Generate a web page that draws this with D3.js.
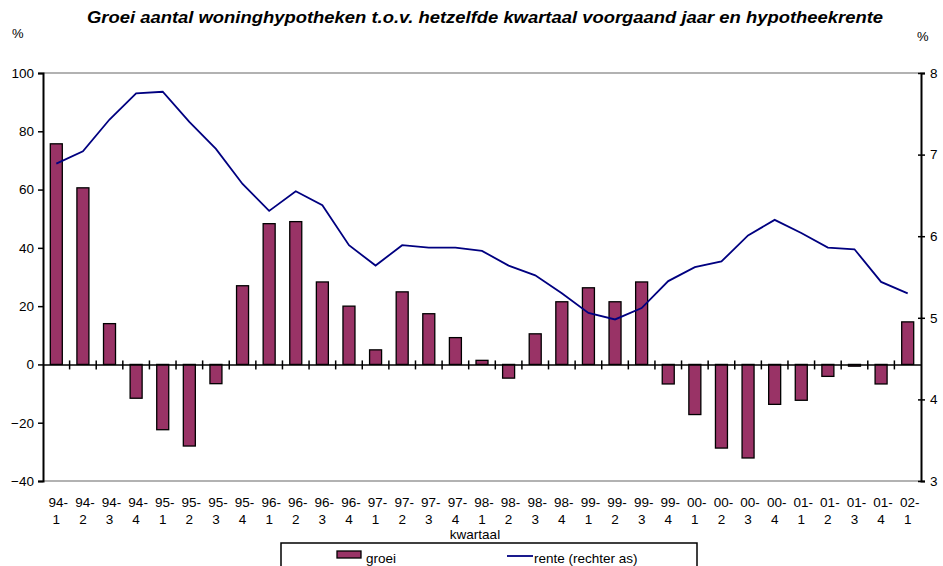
<!DOCTYPE html>
<html>
<head>
<meta charset="utf-8">
<script src="https://cdn.jsdelivr.net/npm/d3@7"></script>
<style>
  body { margin: 0; background: #fff; }
  svg text { font-family: "Liberation Sans", Arial, sans-serif; fill: #000; }
</style>
</head>
<body>
<div id="chart"></div>
<script>
// quarters, growth of mortgages (%) and mortgage rate (%, right axis)
var quarters = ['94-1','94-2','94-3','94-4','95-1','95-2','95-3','95-4',
  '96-1','96-2','96-3','96-4','97-1','97-2','97-3','97-4',
  '98-1','98-2','98-3','98-4','99-1','99-2','99-3','99-4',
  '00-1','00-2','00-3','00-4','01-1','01-2','01-3','01-4','02-1'];
var groei = [75.7, 60.6, 14.0, -11.6, -22.4, -28.0, -6.6, 27.0,
  48.3, 49.0, 28.3, 20.0, 5.0, 24.9, 17.4, 9.2,
  1.4, -4.7, 10.5, 21.5, 26.3, 21.5, 28.3, -6.7,
  -17.2, -28.7, -32.1, -13.7, -12.3, -4.1, -0.6, -6.7, 14.6];
var rente = [6.89, 7.04, 7.43, 7.75, 7.77, 7.40, 7.07, 6.64,
  6.31, 6.55, 6.38, 5.89, 5.64, 5.89, 5.86, 5.86,
  5.82, 5.64, 5.52, 5.30, 5.06, 4.98, 5.12, 5.45,
  5.62, 5.69, 6.01, 6.20, 6.04, 5.86, 5.84, 5.44, 5.30];
var leftTicks = [-40, -20, 0, 20, 40, 60, 80, 100];
var rightTicks = [3, 4, 5, 6, 7, 8];

var W = 943, H = 566;
var X0 = 43, X1 = 921, Y0 = 73, Y1 = 481;

var svg = d3.select('#chart').append('svg')
  .attr('width', W).attr('height', H);

var x = d3.scaleBand().domain(quarters).range([X0, X1]);
var yL = d3.scaleLinear().domain([-40, 100]).range([Y1, Y0]);
var yR = d3.scaleLinear().domain([3, 8]).range([Y1, Y0]);

// title and unit labels
svg.append('text')
  .attr('x', 87).attr('y', 23)
  .attr('textLength', 796).attr('lengthAdjust', 'spacingAndGlyphs')
  .style('font-size', '17px').style('font-weight', 'bold').style('font-style', 'italic')
  .text('Groei aantal woninghypotheken t.o.v. hetzelfde kwartaal voorgaand  jaar en hypotheekrente');
svg.append('text').attr('x', 12).attr('y', 38).style('font-size', '13px').text('%');
svg.append('text').attr('x', 917).attr('y', 41).style('font-size', '13px').text('%');

// top and bottom frame lines
svg.append('line').attr('x1', X0).attr('x2', X1).attr('y1', Y0).attr('y2', Y0)
  .attr('stroke', '#999').attr('stroke-width', 1.5);
svg.append('line').attr('x1', X0).attr('x2', X1).attr('y1', Y1).attr('y2', Y1)
  .attr('stroke', '#999').attr('stroke-width', 1.5);

// bars
var bw = 12;
svg.append('g').selectAll('rect')
  .data(groei)
  .enter()
  .append('rect')
    .attr('x', function(d, i){ return x(quarters[i]) + x.bandwidth() / 2 - bw / 2; })
    .attr('y', function(d){ return yL(Math.max(0, d)); })
    .attr('width', bw)
    .attr('height', function(d){ return Math.max(1, Math.abs(yL(d) - yL(0))); })
    .attr('fill', '#993366')
    .attr('stroke', '#000')
    .attr('stroke-width', 1.3);

// zero axis with category ticks
var xAxis = d3.axisBottom(x).tickSize(0).tickFormat('');
svg.append('g').attr('transform', 'translate(0,' + yL(0) + ')').call(xAxis)
  .call(function(g){ g.select('.domain').attr('stroke', '#000').attr('stroke-width', 1.5); });
svg.append('g').selectAll('line')
  .data(quarters.slice(1))
  .enter()
  .append('line')
    .attr('x1', function(d){ return x(d); })
    .attr('x2', function(d){ return x(d); })
    .attr('y1', yL(0) - 4)
    .attr('y2', yL(0) + 5)
    .attr('stroke', '#000').attr('stroke-width', 1.5);

// rente line
var line = d3.line()
  .x(function(d, i){ return x(quarters[i]) + x.bandwidth() / 2; })
  .y(function(d){ return yR(d); });
svg.append('path').datum(rente)
  .attr('d', line)
  .attr('fill', 'none')
  .attr('stroke', '#000080')
  .attr('stroke-width', 1.8);

// left axis
var gl = svg.append('g').attr('transform', 'translate(' + X0 + ',0)')
  .call(d3.axisLeft(yL).tickValues(leftTicks).tickSize(5).tickPadding(4).tickFormat(d3.format('d')));
gl.select('.domain').attr('stroke', '#000').attr('stroke-width', 2);
gl.selectAll('.tick line').attr('stroke', '#000').attr('stroke-width', 1.5);
gl.selectAll('.tick text').style('font-size', '13.5px').style('font-family', '"Liberation Sans", Arial, sans-serif');

// right axis
var gr = svg.append('g').attr('transform', 'translate(' + X1 + ',0)')
  .call(d3.axisRight(yR).tickValues(rightTicks).tickSize(4).tickPadding(5).tickFormat(d3.format('d')));
gr.select('.domain').attr('stroke', '#000').attr('stroke-width', 2);
gr.selectAll('.tick line').attr('x1', -3).attr('stroke', '#000').attr('stroke-width', 1.5);
gr.selectAll('.tick text').style('font-size', '13.5px').style('font-family', '"Liberation Sans", Arial, sans-serif');

// category labels on two lines
var lab = svg.append('g').selectAll('text')
  .data(quarters)
  .enter()
  .append('text')
    .attr('text-anchor', 'middle')
    .style('font-size', '13.5px');
lab.append('tspan')
  .attr('x', function(d){ return x(d) + x.bandwidth() / 2 + 2; })
  .attr('y', 507)
  .text(function(d){ return d.split('-')[0] + '-'; });
lab.append('tspan')
  .attr('x', function(d){ return x(d) + x.bandwidth() / 2; })
  .attr('y', 524)
  .text(function(d){ return d.split('-')[1]; });

svg.append('text').attr('x', 475).attr('y', 539).attr('text-anchor', 'middle')
  .style('font-size', '13.5px').text('kwartaal');

// legend
var lg = svg.append('g');
lg.append('rect').attr('x', 281).attr('y', 543).attr('width', 416).attr('height', 30)
  .attr('fill', '#fff').attr('stroke', '#000').attr('stroke-width', 1.5);
lg.append('rect').attr('x', 337).attr('y', 551).attr('width', 24).attr('height', 7)
  .attr('fill', '#993366').attr('stroke', '#000').attr('stroke-width', 1.3);
lg.append('text').attr('x', 366).attr('y', 563).style('font-size', '13.5px').text('groei');
lg.append('line').attr('x1', 507).attr('x2', 533).attr('y1', 556).attr('y2', 556)
  .attr('stroke', '#000080').attr('stroke-width', 1.8);
lg.append('text').attr('x', 534).attr('y', 563).style('font-size', '13.5px').text('rente (rechter as)');
</script>
</body>
</html>
